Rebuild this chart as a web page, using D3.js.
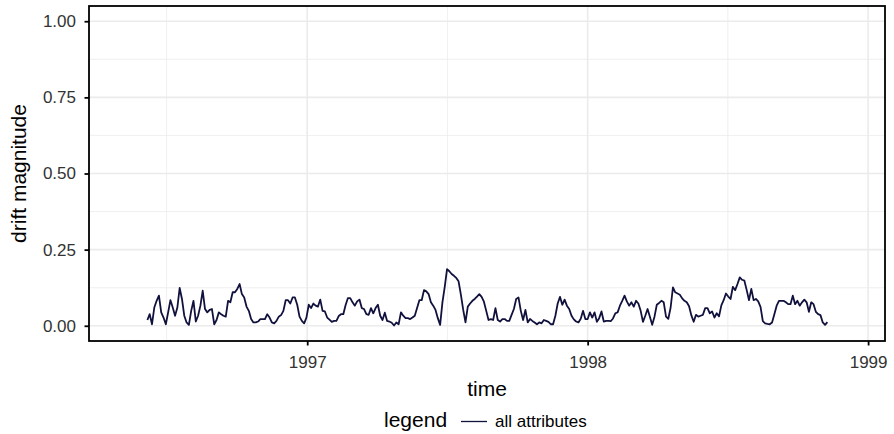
<!DOCTYPE html>
<html>
<head>
<meta charset="utf-8">
<script src="https://cdn.jsdelivr.net/npm/d3@7"></script>
<style>
  html, body { margin: 0; padding: 0; background: #ffffff; }
  svg { display: block; font-family: "Liberation Sans", Arial, Helvetica, sans-serif; }
</style>
</head>
<body>
<svg id="chart" width="894" height="434"></svg>
<script>
// Drift magnitude over time, one observation every three days
const seriesName = "all attributes";
const seriesStart = "1996-06-07";
const stepDays = 3;
const driftValues = [
  0.019, 0.038, 0.005, 0.060, 0.082, 0.099, 0.044, 0.027, 0.005, 0.044,
  0.084, 0.060, 0.033, 0.060, 0.124, 0.088, 0.033, 0.011, 0.003, 0.049,
  0.082, 0.014, 0.033, 0.066, 0.115, 0.055, 0.044, 0.052, 0.055, 0.005,
  0.019, 0.044, 0.038, 0.033, 0.030, 0.082, 0.077, 0.110, 0.110, 0.121,
  0.137, 0.104, 0.093, 0.063, 0.049, 0.022, 0.011, 0.011, 0.014, 0.022,
  0.022, 0.022, 0.038, 0.027,
  0.011, 0.008, 0.016, 0.030, 0.035, 0.049, 0.084, 0.084, 0.073, 0.093,
  0.093, 0.069, 0.030, 0.016, 0.008, 0.027, 0.069, 0.058, 0.073, 0.066,
  0.063, 0.086, 0.049, 0.047, 0.027, 0.020, 0.013, 0.016, 0.016, 0.032,
  0.038, 0.038, 0.068, 0.091, 0.091, 0.077, 0.066, 0.080, 0.086, 0.058,
  0.055, 0.038, 0.036, 0.058, 0.041, 0.058, 0.069, 0.033, 0.019, 0.043,
  0.016, 0.014, 0.010, 0.001,
  0.011, 0.005, 0.044, 0.033, 0.025, 0.025, 0.022, 0.027, 0.033, 0.058,
  0.084, 0.084, 0.117, 0.113, 0.104, 0.077, 0.066, 0.052, 0.025, 0.003,
  0.077, 0.128, 0.186, 0.179, 0.170, 0.164, 0.157, 0.146, 0.102, 0.053,
  0.011, 0.063, 0.073, 0.082, 0.088, 0.096, 0.104, 0.095, 0.079, 0.049,
  0.019, 0.022, 0.019, 0.058, 0.019, 0.014, 0.022, 0.022, 0.016, 0.016,
  0.036, 0.055, 0.088, 0.093,
  0.049, 0.019, 0.052, 0.011, 0.022, 0.016, 0.011, 0.005, 0.011, 0.008,
  0.019, 0.016, 0.013, 0.005, 0.005, 0.033, 0.073, 0.095, 0.069, 0.086,
  0.066, 0.055, 0.033, 0.021, 0.014, 0.011, 0.023, 0.049, 0.022, 0.022,
  0.044, 0.027, 0.044, 0.013, 0.025, 0.047, 0.014, 0.016, 0.016, 0.015,
  0.024, 0.041, 0.044, 0.066, 0.082, 0.099, 0.080, 0.066, 0.077, 0.063,
  0.082, 0.073, 0.049, 0.013,
  0.033, 0.055, 0.030, 0.003, 0.030, 0.069, 0.075, 0.082, 0.077, 0.030,
  0.023, 0.060, 0.126, 0.110, 0.106, 0.102, 0.090, 0.082, 0.077, 0.064,
  0.034, 0.013, 0.036, 0.030, 0.033, 0.036, 0.058, 0.058, 0.041, 0.047,
  0.027, 0.041, 0.031, 0.067, 0.084, 0.106, 0.096, 0.088, 0.128, 0.117,
  0.137, 0.159, 0.151, 0.148, 0.117, 0.084, 0.121, 0.084, 0.088, 0.080,
  0.062, 0.015, 0.008, 0.006, 0.005, 0.011, 0.038, 0.066, 0.082, 0.082,
  0.082, 0.077, 0.071, 0.071, 0.099, 0.071, 0.082, 0.066, 0.077, 0.086,
  0.077, 0.046, 0.077, 0.071, 0.046, 0.038, 0.035, 0.011, 0.003, 0.012
];

// Axis settings
const xDomain = ["1996-03-23", "1999-01-23"];
const yearTicks = [1997, 1998, 1999];
const yDomain = [-0.05, 1.05];
const yTicks = [0, 0.25, 0.5, 0.75, 1.0];
const xTitle = "time";
const yTitle = "drift magnitude";
const legendTitle = "legend";

const svg = d3.select("#chart");
const panel = { left: 89, right: 885, top: 6, bottom: 341 };
const lineColor = "#11113d";
const gridColor = "#ebebeb";

const parse = d3.utcParse("%Y-%m-%d");
const start = parse(seriesStart);
const data = driftValues.map((v, i) => ({ t: d3.utcDay.offset(start, i * stepDays), v }));

const x = d3.scaleUtc().domain(xDomain.map(parse)).range([panel.left, panel.right]);
const y = d3.scaleLinear().domain(yDomain).range([panel.bottom, panel.top]);

// Major and minor grid positions (minor sits halfway between majors)
const yearDates = yearTicks.map(yr => new Date(Date.UTC(yr, 0, 1)));
const allYears = [yearTicks[0] - 1, ...yearTicks].map(yr => new Date(Date.UTC(yr, 0, 1)));
const xMinor = d3.pairs(allYears).map(([a, b]) => new Date((+a + +b) / 2));
const yMinor = d3.pairs(yTicks).map(([a, b]) => (a + b) / 2);

const grid = svg.append("g");
grid.selectAll(".ymin").data(yMinor).join("line")
  .attr("x1", panel.left).attr("x2", panel.right)
  .attr("y1", d => y(d)).attr("y2", d => y(d))
  .attr("stroke", gridColor).attr("stroke-width", 0.8);
grid.selectAll(".xmin").data(xMinor.filter(d => x(d) > panel.left && x(d) < panel.right)).join("line")
  .attr("y1", panel.top).attr("y2", panel.bottom)
  .attr("x1", d => x(d)).attr("x2", d => x(d))
  .attr("stroke", gridColor).attr("stroke-width", 0.8);
grid.selectAll(".ymaj").data(yTicks).join("line")
  .attr("x1", panel.left).attr("x2", panel.right)
  .attr("y1", d => y(d)).attr("y2", d => y(d))
  .attr("stroke", gridColor).attr("stroke-width", 1.6);
grid.selectAll(".xmaj").data(yearDates).join("line")
  .attr("y1", panel.top).attr("y2", panel.bottom)
  .attr("x1", d => x(d)).attr("x2", d => x(d))
  .attr("stroke", gridColor).attr("stroke-width", 1.6);

// Series line
const line = d3.line().x(d => x(d.t)).y(d => y(d.v));
svg.append("path").datum(data)
  .attr("d", line)
  .attr("fill", "none")
  .attr("stroke", lineColor)
  .attr("stroke-width", 1.8)
  .attr("stroke-linejoin", "round");

// Panel border
svg.append("rect")
  .attr("x", panel.left).attr("y", panel.top)
  .attr("width", panel.right - panel.left).attr("height", panel.bottom - panel.top)
  .attr("fill", "none").attr("stroke", "#000").attr("stroke-width", 1.8);

// Axes
const xAxis = svg.append("g")
  .attr("transform", `translate(0,${panel.bottom})`)
  .call(d3.axisBottom(x).tickValues(yearDates).tickFormat(d3.utcFormat("%Y")).tickSize(4.5).tickPadding(10.5));
const yAxis = svg.append("g")
  .attr("transform", `translate(${panel.left},0)`)
  .call(d3.axisLeft(y).tickValues(yTicks).tickFormat(d3.format(".2f")).tickSize(4.5).tickPadding(8.5));

[xAxis, yAxis].forEach(g => {
  g.select(".domain").remove();
  g.selectAll(".tick line").attr("stroke", "#000").attr("stroke-width", 1.8);
  g.selectAll(".tick text")
    .attr("fill", "#333333")
    .style("font-size", "17px")
    .style("font-family", "'Liberation Sans', Arial, Helvetica, sans-serif");
});

// Axis titles
svg.append("text")
  .attr("x", (panel.left + panel.right) / 2).attr("y", 396)
  .attr("text-anchor", "middle")
  .style("font-size", "21px").attr("fill", "#000")
  .text(xTitle);
svg.append("text")
  .attr("transform", `translate(26,${(panel.top + panel.bottom) / 2}) rotate(-90)`)
  .attr("text-anchor", "middle")
  .style("font-size", "21px").attr("fill", "#000")
  .text(yTitle);

// Legend
const legend = svg.append("g");
legend.append("text")
  .attr("x", 384).attr("y", 427)
  .style("font-size", "21px").attr("fill", "#000")
  .text(legendTitle);
legend.append("line")
  .attr("x1", 461).attr("x2", 487).attr("y1", 421.5).attr("y2", 421.5)
  .attr("stroke", lineColor).attr("stroke-width", 1.3);
legend.append("text")
  .attr("x", 495).attr("y", 427)
  .style("font-size", "17px").attr("fill", "#000")
  .text(seriesName);
</script>
</body>
</html>
